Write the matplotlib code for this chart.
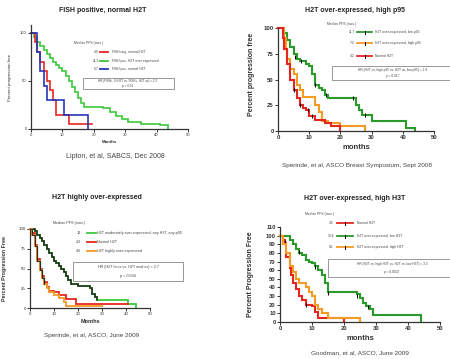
import matplotlib
matplotlib.use("Agg")
import matplotlib.pyplot as plt

plt.rcParams['font.family'] = ['Liberation Sans', 'DejaVu Sans']

W, H = 450, 359

RED = '#e5261f'
GREEN = '#3cc83c'
DKGREEN = '#2a9a2a'
BLUE = '#2736b8'
ORANGE = '#f59a23'

# ---- panel 1: FISH positive, normal H2T (Lipton) ----
p1_red_t = [0, 1.2, 2, 3, 4, 5, 6, 7, 8, 12, 19.5]
p1_red_s = [100, 90, 80, 70, 60, 50, 40, 30, 15, 5, 5]
p1_green_t = [0, 1, 2, 3, 4, 5, 6, 7, 8, 9, 10, 11, 12, 13, 14, 15, 16, 17, 23, 25, 27, 29, 31, 35, 41, 43.5]
p1_green_s = [100, 96, 90, 86, 82, 78, 74, 70, 66, 63, 60, 55, 50, 44, 38, 32, 27, 23, 22, 18, 13, 10, 7, 5, 4, 0]
p1_blue_t = [0, 2, 3, 4, 5, 10.5, 18]
p1_blue_s = [100, 80, 60, 45, 30, 15, 0]

# ---- panel 2: H2T over-expressed, high p95 ----
p2_green_t = [0, 2, 3, 4, 5, 6, 7, 9, 10, 11, 12, 13, 14, 15, 16, 24, 25, 26, 27, 30, 41, 44]
p2_green_s = [100, 95, 88, 82, 75, 70, 68, 65, 63, 55, 45, 42, 40, 35, 32, 32, 25, 20, 16, 10, 3, 0]
p2_green_cens = [(5.5, 72), (7.5, 68), (12, 45), (15.5, 35), (24, 32), (28, 16)]
p2_orange_t = [0, 2, 2.5, 3, 4, 5, 6, 7, 8, 12, 13, 14, 16, 20, 28]
p2_orange_s = [100, 90, 80, 70, 60, 55, 45, 40, 33, 25, 18, 10, 8, 5, 0]
p2_red_t = [0, 1.5, 2, 3, 4, 5, 6, 7, 8, 9, 10, 12, 15, 17, 19.8]
p2_red_s = [100, 90, 80, 65, 50, 40, 32, 25, 22, 20, 15, 11, 8, 5, 0]
p2_red_cens = [(5, 40), (7, 25), (9.5, 20), (11, 15)]

# ---- panel 3: H2T highly over-expressed ----
p3_green_t = [0, 2, 3, 4, 5, 6, 7, 8, 9, 10, 11, 12, 13, 14, 15, 16, 17, 20, 25, 26, 27, 28, 41, 44]
p3_green_s = [100, 97, 93, 88, 85, 80, 75, 70, 65, 60, 57, 53, 50, 45, 40, 35, 30, 28, 25, 18, 14, 10, 5, 0]
p3_red_t = [0, 1, 2, 3, 4, 5, 6, 7, 8, 10, 12, 15, 19, 41]
p3_red_s = [100, 95, 80, 62, 50, 40, 33, 27, 22, 20, 16, 12, 5, 5]
p3_orange_t = [0, 1, 2, 3, 4, 5, 6, 7, 8, 10, 12, 14, 15, 30]
p3_orange_s = [100, 93, 78, 60, 48, 38, 31, 25, 20, 17, 13, 8, 3, 3]

# ---- panel 4: H2T over-expressed, high H3T ----
p4_red_t = [0, 1, 1.5, 2, 3, 3.5, 4, 5, 6, 7, 8, 10, 11, 12, 20]
p4_red_s = [100, 95, 92, 75, 62, 55, 45, 38, 30, 25, 20, 18, 12, 5, 0]
p4_red_cens = [(1.5, 93), (8, 20)]
p4_green_t = [0, 3, 4, 5, 6, 7, 8, 9, 10, 11, 12, 13, 14, 15, 24, 25, 26, 27, 28, 29, 44]
p4_green_s = [100, 95, 90, 85, 80, 78, 72, 70, 68, 65, 60, 55, 45, 35, 33, 28, 22, 18, 15, 8, 0]
p4_green_cens = [(6, 81), (11, 64), (15, 34), (24, 30), (27.5, 17)]
p4_orange_t = [0, 1, 2, 3, 4, 5, 6, 8, 9, 10, 11, 12, 13, 15, 25]
p4_orange_s = [100, 90, 80, 65, 58, 50, 45, 40, 35, 30, 20, 15, 10, 5, 0]


def fx(x):
    return x / W


def fy(y):
    return 1 - y / H


def px_axes(fig, left, top, right, bottom):
    return fig.add_axes([fx(left), fy(bottom), fx(right - left), (bottom - top) / H])


def style_axes(ax, ylim, yticks, tick_size, bold):
    ax.set_xlim(0, 50)
    ax.set_ylim(*ylim)
    ax.set_xticks(range(0, 51, 10))
    ax.set_yticks(yticks)
    for side in ['top', 'right']:
        ax.spines[side].set_visible(False)
    for side in ['left', 'bottom']:
        ax.spines[side].set_linewidth(0.9)
        ax.spines[side].set_color('#333333')
    ax.tick_params(length=2, width=0.7, pad=1, labelsize=tick_size, colors='#333333')
    for lab in ax.get_xticklabels() + ax.get_yticklabels():
        lab.set_fontweight('bold' if bold else 'normal')
    ax.set_facecolor('none')


def km(ax, t, s, color, lw=1.3, cens=None):
    ax.step(t, s, where='post', color=color, lw=lw, clip_on=False, solid_joinstyle='miter')
    if cens:
        ax.plot([c[0] for c in cens], [c[1] for c in cens], ls='none', marker='|',
                ms=2.5, mew=0.7, color='black', clip_on=False)


def legend_block(fig, head, hx, hy, rows, num_x, line_x0, line_x1, text_x, fs, tick=False):
    fig.text(fx(hx), fy(hy), head, fontsize=fs, color='#444444', va='center')
    for y, num, color, label in rows:
        fig.text(fx(num_x), fy(y), num, fontsize=fs, color='#444444', ha='right', va='center')
        fig.lines.append(plt.Line2D([fx(line_x0), fx(line_x1)], [fy(y), fy(y)], color=color,
                                    lw=1.3, transform=fig.transFigure))
        if tick:
            xm = (line_x0 + line_x1) / 2
            fig.lines.append(plt.Line2D([fx(xm), fx(xm)], [fy(y - 1.5), fy(y + 1.5)], color='black',
                                        lw=0.7, transform=fig.transFigure))
        fig.text(fx(text_x), fy(y), label, fontsize=fs, color='#444444', va='center')


def hr_box(fig, left, top, right, bottom, lines, cx, fs):
    fig.patches.append(plt.Rectangle((fx(left), fy(bottom)), fx(right - left), (bottom - top) / H,
                                     fill=False, ec='#888888', lw=0.6, transform=fig.transFigure))
    n = len(lines)
    for i, txt in enumerate(lines):
        y = top + (bottom - top) * (i + 0.5) / n
        fig.text(fx(cx), fy(y), txt, fontsize=fs, color='#444444', ha='center', va='center')


fig = plt.figure(figsize=(W / 100, H / 100), dpi=100)
fig.patch.set_facecolor('white')

# ----- panel 1 -----
ax1 = px_axes(fig, 31, 25, 188, 129)
style_axes(ax1, (0, 108), [0, 50, 100], 3, False)
km(ax1, p1_green_t, p1_green_s, GREEN, lw=1.2)
km(ax1, p1_red_t, p1_red_s, RED, lw=1.2)
km(ax1, p1_blue_t, p1_blue_s, BLUE, lw=1.2)
ax1.set_ylabel('Percent progression free', fontsize=3.2, color='#333333')
ax1.yaxis.set_label_coords(-0.12, 0.5)
ax1.set_xlabel('Months', fontsize=3.2, fontweight='bold', color='#333333', labelpad=2)
fig.text(fx(103), fy(10), 'FISH positive, normal H2T', fontsize=5, fontweight='bold',
         ha='center', va='center', color='#222222')
fig.text(fx(115), fy(156), 'Lipton, et al, SABCS, Dec 2008', fontsize=5, ha='center',
         va='center', color='#444444')
legend_block(fig, 'Median PFS (mos.)', 74, 43,
             [(52, '4.5', RED, 'FISH neg, normal H2T'),
              (61, '11.3', GREEN, 'FISH pos, H2T over expressed'),
              (69, '5.7', BLUE, 'FISH pos, normal H2T')],
             99, 100, 108, 112, 2.4)
hr_box(fig, 83, 78, 174, 89, ['HR (FISH+, N-H2T vs. FISH+, H2T ov) = 2.3', 'p = 0.01'], 128, 2.2)

# ----- panel 2 -----
ax2 = px_axes(fig, 278, 28, 434, 131)
style_axes(ax2, (0, 100), [0, 25, 50, 75, 100], 4.3, True)
km(ax2, p2_green_t, p2_green_s, DKGREEN, lw=1.5, cens=p2_green_cens)
km(ax2, p2_orange_t, p2_orange_s, ORANGE, lw=1.5)
km(ax2, p2_red_t, p2_red_s, RED, lw=1.5, cens=p2_red_cens)
ax2.set_ylabel('Percent progression free', fontsize=5, fontweight='bold', color='#333333')
ax2.yaxis.set_label_coords(fx(255 - 278) * W / 156, 0.55)
ax2.set_xlabel('months', fontsize=5.5, fontweight='bold', color='#333333', labelpad=3)
fig.text(fx(355), fy(10), 'H2T over-expressed, high p95', fontsize=5, fontweight='bold',
         ha='center', va='center', color='#222222')
fig.text(fx(282), fy(166), 'Sperinde, et al, ASCO Breast Symposium, Sept 2008', fontsize=4.6,
         ha='left', va='center', color='#444444')
legend_block(fig, 'Median PFS (mos.)', 327, 24,
             [(32, '11.7', DKGREEN, 'H2T over-expressed, low p95'),
              (43, '7.2', ORANGE, 'H2T over-expressed, high p95'),
              (56, '4.2', RED, 'Normal H2T')],
             355, 357, 372, 375, 2.4, tick=True)
hr_box(fig, 332, 66, 455, 80, ['HR (H2T ov, high p95 vs. H2T ov, low p95) = 1.9', 'p = 0.017'], 393, 2.3)

# ----- panel 3 -----
ax3 = px_axes(fig, 30, 229, 150, 308)
style_axes(ax3, (0, 100), [0, 25, 50, 75, 100], 3.2, False)
km(ax3, p3_green_t, p3_green_s, GREEN, lw=1.3)
km(ax3, p3_green_t[:22], p3_green_s[:22], '#1f2a1a', lw=1.1)
km(ax3, p3_red_t, p3_red_s, RED, lw=1.3)
km(ax3, p3_orange_t, p3_orange_s, ORANGE, lw=1.3)
km(ax3, p3_orange_t[:7], p3_orange_s[:7], '#2a2a2a', lw=0.9)
ax3.set_ylabel('Percent Progression Free', fontsize=3.8, fontweight='bold', color='#333333')
ax3.yaxis.set_label_coords(-0.19, 0.5)
ax3.set_xlabel('Months', fontsize=4, fontweight='bold', color='#333333', labelpad=2)
fig.text(fx(97), fy(197), 'H2T highly over-expressed', fontsize=5, fontweight='bold',
         ha='center', va='center', color='#222222')
fig.text(fx(92), fy(335), 'Sperinde, et al, ASCO, June 2009', fontsize=4.6, ha='center',
         va='center', color='#444444')
legend_block(fig, 'Median PFS (mos.)', 53, 223,
             [(233, '12', GREEN, 'H2T moderately over-expressed, any H3T, any p95'),
              (242, '4.2', RED, 'Normal H2T'),
              (251, '4.6', ORANGE, 'H2T highly over-expressed')],
             81, 87, 96, 97, 2.7)
hr_box(fig, 73, 262, 183, 281, ['HR (H2T hi ox vs. H2T mod ox) = 2.7', 'p = 0.034'], 128, 2.7)

# ----- panel 4 -----
ax4 = px_axes(fig, 280, 227, 440, 322)
style_axes(ax4, (0, 110), list(range(0, 111, 10)), 4.2, True)
km(ax4, p4_red_t, p4_red_s, RED, lw=1.5, cens=p4_red_cens)
km(ax4, p4_green_t, p4_green_s, DKGREEN, lw=1.5, cens=p4_green_cens)
km(ax4, p4_orange_t, p4_orange_s, ORANGE, lw=1.5)
ax4.set_ylabel('Percent Progression Free', fontsize=5, fontweight='bold', color='#333333')
ax4.yaxis.set_label_coords(-0.16, 0.5)
ax4.set_xlabel('months', fontsize=5.5, fontweight='bold', color='#333333', labelpad=3)
fig.text(fx(355), fy(198), 'H2T over-expressed, high H3T', fontsize=5, fontweight='bold',
         ha='center', va='center', color='#222222')
fig.text(fx(360), fy(353), 'Goodman, et al, ASCO, June 2009', fontsize=4.6, ha='center',
         va='center', color='#444444')
legend_block(fig, 'Median PFS (mos.)', 305, 214,
             [(223, '4.5', RED, 'Normal H3T'),
              (236, '13.6', DKGREEN, 'H2T over-expressed, low H3T'),
              (247, '8.1', ORANGE, 'H2T over-expressed, high H3T')],
             334, 337, 353, 357, 2.4, tick=True)
hr_box(fig, 328, 259, 455, 277, ['HR (H2T ov, high H3T vs. H2T ov, low H3T) = 3.3', 'p = 0.0002'], 392, 2.3)

fig.savefig('out.png', dpi=100, facecolor='white')
